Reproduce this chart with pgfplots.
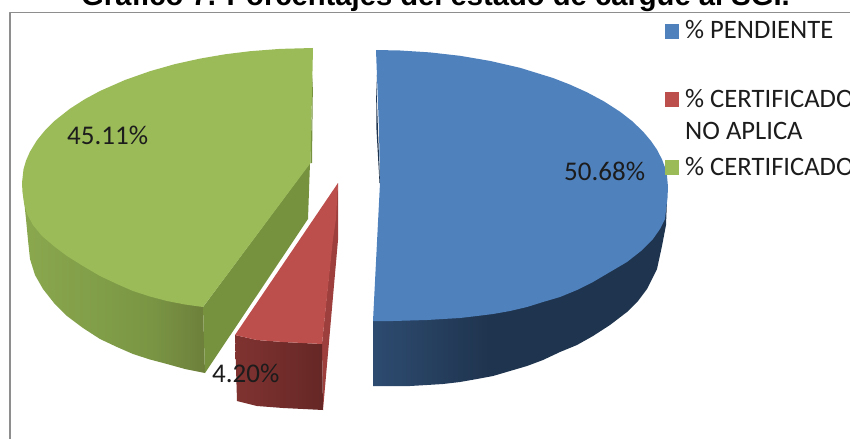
\documentclass[border=0pt]{standalone}
\usepackage{fontspec}
\usepackage{pgfplots}
\pgfplotsset{compat=1.18}
\newfontfamily\calibri{Carlito}
\newfontfamily\arial{Liberation Sans}
\definecolor{azul}{HTML}{4F81BD}
\definecolor{rojo}{HTML}{BC4F4C}
\definecolor{verde}{HTML}{9BBB59}
\definecolor{marco}{HTML}{8E8E8E}
\definecolor{tinta}{HTML}{1C1C1C}
\definecolor{verdecorte}{HTML}{76923F}
\definecolor{rojocorte}{HTML}{9C3F3D}
\definecolor{az1}{HTML}{2D4B70}
\definecolor{az2}{HTML}{1F344E}
\definecolor{ve1}{HTML}{8AA84E}
\definecolor{ve2}{HTML}{7A9644}
\definecolor{ve3}{HTML}{6D7F3B}
\definecolor{ro1}{HTML}{803331}
\definecolor{ro2}{HTML}{652725}
\pgfdeclarehorizontalshading{ladoazul}{100bp}{color(0bp)=(az1); color(25bp)=(az1); color(45bp)=(az2); color(100bp)=(az2)}
\pgfdeclarehorizontalshading{ladoverde}{100bp}{color(0bp)=(ve1); color(25bp)=(ve1); color(60bp)=(ve2); color(75bp)=(ve3); color(100bp)=(ve3)}
\pgfdeclarehorizontalshading{ladorojo}{100bp}{color(0bp)=(ro1); color(25bp)=(ro1); color(75bp)=(ro2); color(100bp)=(ro2)}
\tikzset{
  nodo/.style={anchor=base west, inner sep=0pt, text=tinta, font=\fontsize{26.6bp}{32bp}\selectfont\calibri},
  dato/.style={anchor=base west, inner sep=0pt, text=tinta, font=\fontsize{27bp}{32bp}\selectfont\calibri},
}
\begin{document}
\begin{tikzpicture}
\path[use as bounding box] (0,0) rectangle (850bp,439bp);
\clip (0,0) rectangle (850bp,439bp);
\begin{axis}[
  at={(0,0)}, anchor=south west,
  scale only axis, width=850bp, height=439bp,
  xmin=0, xmax=850, ymin=0, ymax=439, y dir=reverse,
  hide axis, no markers, clip=false,
  every axis plot/.append style={draw=none, line join=round},
]
% marco del grafico
\addplot[draw=marco, line width=1.5bp] coordinates {(10,439)(10,12.7)(850,12.7)};

% 50.68% pendiente
\addplot[shade, shading=ladoazul] coordinates {
  (667,200)(666,225)(662,246)(657,269)(647,289)(638,301)(627,312)(610,325)(593,336)
  (577,345)(560,352)(543,360)(527,366)(510,371)(493,376)(477,379)(460,382)(443,384)
  (427,385)(410,386)(393,386)(373,386)(373,321)} --cycle;
\addplot[fill=azul] coordinates {
  (380,183)(379,130)(376,50)(400,50.5)(430,52.4)(460,55.8)(490,60.9)(520,67.8)(553,78)(570,84.6)
  (587,92.3)(604,101.4)(620,111.7)(632,121)(643,131.5)(651,141)(657,149.7)(662,159.4)(665,167.4)
  (667,175.7)(668,187)(667.5,198)(666,210)(665,219)
  (660,229)(653,239)(641,251)(627,262)(610,272)(593,282)(577,290)(560,297)(543,302)(527,307)
  (510,311)(493,314)(477,316)(460,318)(443,319)(427,320)(410,320.5)(393,321)(373,321)} --cycle;
\addplot[fill=az2] coordinates {(376,75)(378,130)(380,183)(379.5,183)(376.5,130)} --cycle;

% 45.11% certificado
\addplot[shade, shading=ladoverde] coordinates {
  (22.5,183)(24,200)(26,219)(28,240)(30,259)(35,275)(43,289)(54,303)(67,316)(83,328)
  (100,339)(117,347)(133,354)(150,359.5)(167,364)(185,369)(205,373)(203,307)} --cycle;
\addplot[fill=verdecorte] coordinates {(310,163)(203,307)(205,373)(308,219)} --cycle;
\addplot[fill=verde] coordinates {
  (310.5,163)(313,48)(280,48.9)(250,51.2)(225,54.3)(200,58.6)(175,64.1)(150,71.2)(125,80)(100,91)
  (85,99.1)(70,108.7)(55,120.5)(45,130.4)(37,140.2)(30,151.6)(26,160.7)(23.5,169.3)(22,183)
  (22.5,192)(24,203)(27,214)(33,225)(42,236)(55,247)(67,256)(83,266)(100,276)(117,284)
  (133,291)(150,296.5)(167,301)(185,304.5)(203,307)} --cycle;
\addplot[fill=verdecorte] coordinates {(313,75)(312,163)(310.5,163)(312.3,85)} --cycle;

% 4.20% certificado no aplica
\addplot[fill=rojocorte] coordinates {(338,183)(338,240)(323,410)(322,344)} --cycle;
\addplot[shade, shading=ladorojo] coordinates {
  (235,335)(257,340)(283,342)(322,344)(323,410)(283,408)(257,406)(237,401)} --cycle;
\addplot[fill=rojo] coordinates {
  (338,183)(235,335)(257,340)(283,342)(322,344)(333,239)(336,219)} --cycle;

% cuadros de la leyenda
\addplot[fill=azul] coordinates {(664.5,24)(679,24)(679,39)(664.5,39)} --cycle;
\addplot[fill=rojo] coordinates {(664.5,92)(679,92)(679,107)(664.5,107)} --cycle;
\addplot[fill=verde] coordinates {(664.5,160)(679,160)(679,174.5)(664.5,174.5)} --cycle;

\node[nodo] at (axis cs:685,39) {\% PENDIENTE};
\node[nodo] at (axis cs:685,107) {\% CERTIFICADO};
\node[nodo] at (axis cs:685,139) {NO APLICA};
\node[nodo] at (axis cs:685,175) {\% CERTIFICADO};

\node[dato] at (axis cs:67,144) {45.11\%};
\node[dato] at (axis cs:564,180) {50.68\%};
\node[dato] at (axis cs:212,382) {4.20\%};

\node[anchor=base west, inner sep=0pt, text=black, font={\fontsize{29.2bp}{34bp}\selectfont\arial\bfseries}]
  at (axis cs:81,5.5) {Gráfico 7. Porcentajes del estado de cargue al SGI.};
\end{axis}
\end{tikzpicture}
\end{document}
